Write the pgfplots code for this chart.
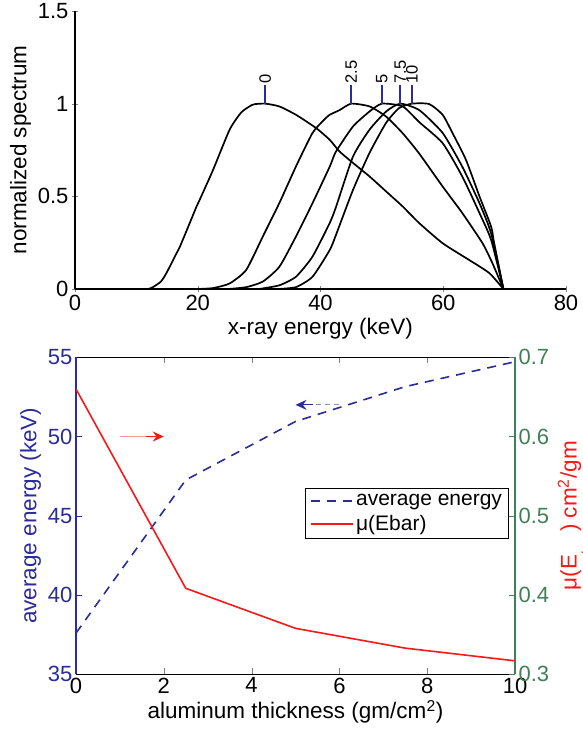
\documentclass[border=0pt]{standalone}
\usepackage{fontspec}
\setmainfont{Liberation Sans}
\usepackage{pgfplots}
\pgfplotsset{compat=1.18}
\usetikzlibrary{arrows.meta}

\definecolor{mblue}{rgb}{0.17,0.17,0.6}
\definecolor{mgreen}{rgb}{0.25,0.5,0.35}
\definecolor{mred}{rgb}{0.96,0.1,0.1}

\pgfplotsset{
  every axis/.append style={font=\fontsize{22.5}{27}\selectfont},
  /pgf/number format/assume math mode=true,
  tick label style={font=\fontsize{22}{26}\selectfont},
  major tick length=6pt,
  tick align=inside,
  legend image code/.code={\draw[#1] (0cm,0cm) -- (1.5cm,0cm);},
  spec/.style={black, line width=1.7pt, smooth, tension=0.35},
  stem/.style={mblue, line width=1.7pt},
}

\begin{document}
\begin{tikzpicture}
\path[use as bounding box] (0,0) rectangle (583pt,741pt);

% top panel: spectra
\begin{axis}[
    at={(75pt,452pt)}, anchor=south west,
    scale only axis, width=491pt, height=278pt,
    xmin=0, xmax=80, ymin=0, ymax=1.5,
    axis lines=left, axis line style={-, line width=1.1pt},
    xtick={0,20,40,60,80}, ytick={0,0.5,1,1.5},
    xlabel={x-ray energy (keV)},
    ylabel={normalized spectrum},
    clip=false,
]
% 0
\addplot[spec] coordinates {
  (9,0) (12,0) (12.7,0.01) (14,0.04) (14.9,0.086) (16.5,0.19) (17.1,0.229)
  (18.5,0.34) (19.8,0.445) (20.3,0.48) (22.5,0.643) (25.2,0.86) (27.1,0.953)
  (29,0.995) (31,1.0) (33.3,0.985) (36,0.94) (39.3,0.868) (41.5,0.805)
  (43.1,0.742) (45.3,0.68) (48,0.607) (50.7,0.526) (53.4,0.445) (56.1,0.355)
  (59.9,0.247) (64.2,0.157) (67.5,0.086) (69.8,0)
};
% 2.5
\addplot[spec] coordinates {
  (20,0) (22.5,0.005) (25.2,0.03) (27.9,0.103) (30.6,0.283) (33.3,0.464)
  (36,0.661) (38.7,0.842) (40.5,0.91) (41.5,0.94) (43.1,0.965) (45,1.0)
  (48,0.985) (50.7,0.93) (53.4,0.84) (56.1,0.73) (59.9,0.553) (63.1,0.41)
  (66.4,0.247) (68,0.14) (69.8,0)
};
% 5
\addplot[spec] coordinates {
  (25,0) (27.9,0.01) (30.6,0.04) (33.3,0.12) (36,0.283) (38.7,0.463)
  (41.5,0.66) (42.5,0.74) (45.3,0.877) (48,0.958) (50,1.0) (53.4,0.985)
  (56.1,0.9) (59.9,0.787) (63.1,0.607) (65.9,0.41) (67.8,0.265) (69.8,0)
};
% 7.5
\addplot[spec] coordinates {
  (30,0) (33.3,0.02) (36,0.066) (38.7,0.175) (41.5,0.356) (42.5,0.44)
  (45.3,0.715) (48,0.86) (50.7,0.958) (53,1.0) (56.1,0.965) (59.9,0.842)
  (63.1,0.66) (65.9,0.463) (67.8,0.30) (69.8,0)
};
% 10
\addplot[spec] coordinates {
  (33,0) (36,0.01) (38.7,0.066) (41.5,0.21) (42.5,0.29) (45.3,0.535)
  (48,0.735) (50.7,0.897) (52.8,0.976) (54.9,1.0) (57.7,0.998) (59.9,0.94)
  (61.5,0.842) (63.7,0.697) (65.9,0.5) (67.8,0.337) (68.3,0.247) (69.8,0)
};
% peak markers
\addplot[stem] coordinates {(31,1) (31,1.1)};
\addplot[stem] coordinates {(45,1) (45,1.1)};
\addplot[stem] coordinates {(50,1) (50,1.1)};
\addplot[stem] coordinates {(53,1) (53,1.1)};
\addplot[stem] coordinates {(54.9,1) (54.9,1.1)};
\begin{scope}[every node/.style={rotate=90, anchor=west, inner sep=1.5pt, font=\fontsize{16.5}{18}\selectfont}]
\node at (axis cs:31,1.1) {0};
\node at (axis cs:45,1.1) {2.5};
\node at (axis cs:50,1.1) {5};
\node at (axis cs:53,1.1) {7.5};
\node at (axis cs:54.9,1.1) {10};
\end{scope}
\end{axis}

% bottom panel, left axis: average energy
\begin{axis}[
    at={(76pt,66.7pt)}, anchor=south west,
    scale only axis, width=439pt, height=317pt,
    xmin=0, xmax=10, ymin=35, ymax=55,
    axis x line*=box, axis y line*=left,
    x axis line style={line width=1.1pt},
    y axis line style={-, mblue, line width=2.8pt},
    xtick={0,2,4,6,8,10}, ytick={35,40,45,50,55},
    yticklabel style={mblue}, ytick style={mblue},
    xlabel={aluminum thickness (gm/cm\textsuperscript{2})},
    ylabel={average energy (keV)}, ylabel style={mblue},
]
\addplot[mblue, line width=1.6pt, dash pattern=on 9pt off 7pt] coordinates {
  (0,37.6) (2.5,47.26) (5,50.95) (7.5,53.15) (10,54.72)
};
\addplot[mred!45, line width=1.3pt] coordinates {(1,50) (1.75,50)};
\addplot[mred, line width=1.3pt, -{Stealth[length=11pt, width=10pt]}] coordinates {(1.6,50) (2,50)};
\addplot[mblue!55, line width=0.9pt, dash pattern=on 5pt off 4pt] coordinates {(6,52) (5.3,52)};
\addplot[mblue, line width=1.3pt, -{Stealth[length=11pt, width=10pt]}] coordinates {(5.4,52) (5,52)};
\end{axis}

% bottom panel, right axis: mu(Ebar)
\begin{axis}[
    at={(76pt,66.7pt)}, anchor=south west,
    scale only axis, width=439pt, height=317pt,
    xmin=0, xmax=10, ymin=0.3, ymax=0.7,
    hide x axis, axis y line*=right,
    y axis line style={-, mgreen, line width=1.8pt},
    ytick={0.3,0.4,0.5,0.6,0.7},
    yticklabel style={mgreen, /pgf/number format/fixed, /pgf/number format/precision=1},
    ytick style={mgreen},
    ylabel={μ(E\raisebox{-0.75em}{\fontsize{16}{16}\selectfont bar}) cm\textsuperscript{2}/gm},
    ylabel style={mred},
    ylabel shift=2pt,
    legend style={at={(0.985,0.587)}, anchor=north east, draw=black, line width=0.8pt,
      font=\fontsize{21}{25}\selectfont, row sep=4pt, inner sep=4pt},
    legend cell align=left,
]
\addlegendimage{mblue, line width=1.6pt, dash pattern=on 9pt off 7pt}
\addlegendentry{average energy}
\addplot[mred, line width=1.6pt] coordinates {
  (0,0.66) (2.5,0.4085) (5,0.358) (7.5,0.333) (10,0.317)
};
\addlegendentry{μ(Ebar)}
\end{axis}
\end{tikzpicture}
\end{document}
